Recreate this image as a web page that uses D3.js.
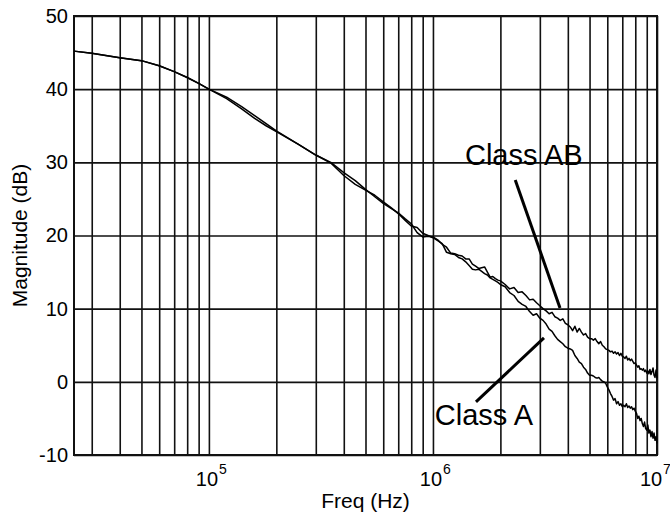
<!DOCTYPE html>
<html>
<head>
<meta charset="utf-8">
<script src="https://cdn.jsdelivr.net/npm/d3@7"></script>
<style>
  body { margin: 0; background: #fff; }
  svg { display: block; font-family: "Liberation Sans", Arial, sans-serif; }
  .grid line { stroke: #111; stroke-width: 1.6; }
  .grid .domain { display: none; }
  .tick-label { font-size: 20px; fill: #000; }
</style>
</head>
<body>
<svg id="chart" width="670" height="514"></svg>
<script>
// Frequency points (Hz), shared by both traces
const freqHz = [
  25000, 30000, 40000, 50000, 60000, 70000, 80000, 90000, 100000, 120000,
  140000, 160000, 180000, 200000, 250000, 300000, 350000, 400000, 450000, 500000,
  550000, 600000, 650000, 700000, 750000, 800000, 850000, 900000, 950000, 1000000,
  1.05e6, 1.1e6, 1.15e6, 1.2e6, 1.25e6, 1.3e6, 1.35e6, 1.4e6, 1.45e6, 1.5e6,
  1.55e6, 1.6e6, 1.65e6, 1.7e6, 1.75e6, 1.8e6, 1.85e6, 1.9e6, 1.95e6, 2.0e6,
  2.1e6, 2.2e6, 2.3e6, 2.4e6, 2.5e6, 2.6e6, 2.7e6, 2.8e6, 2.9e6, 3.0e6,
  3.1e6, 3.2e6, 3.3e6, 3.4e6, 3.5e6, 3.6e6, 3.7e6, 3.8e6, 3.9e6, 4.0e6,
  4.1e6, 4.2e6, 4.3e6, 4.4e6, 4.5e6, 4.6e6, 4.7e6, 4.8e6, 4.9e6, 5.0e6,
  5.1e6, 5.2e6, 5.3e6, 5.4e6, 5.5e6, 5.6e6, 5.7e6, 5.8e6, 5.9e6, 6.0e6,
  6.1e6, 6.2e6, 6.3e6, 6.4e6, 6.5e6, 6.6e6, 6.7e6, 6.8e6, 6.9e6, 7.0e6,
  7.1e6, 7.2e6, 7.3e6, 7.4e6, 7.5e6, 7.6e6, 7.7e6, 7.8e6, 7.9e6, 8.0e6,
  8.1e6, 8.2e6, 8.3e6, 8.4e6, 8.5e6, 8.6e6, 8.7e6, 8.8e6, 8.9e6, 9.0e6,
  9.1e6, 9.2e6, 9.3e6, 9.4e6, 9.5e6, 9.6e6, 9.7e6, 9.8e6, 9.9e6, 1.0e7
];

// Magnitude (dB), Class A
const classA = [
  45.2, 44.9, 44.3, 43.9, 43.2, 42.4, 41.6, 40.8, 40.0, 38.7,
  37.3, 36.0, 35.0, 34.2, 32.5, 31.0, 29.9, 28.2, 27.0, 26.2,
  25.5, 24.6, 23.8, 23.0, 22.1, 21.3, 21.1, 20.3, 20.0, 19.7,
  19.3, 18.9, 17.7, 17.5, 17.4, 17.0, 16.8, 16.4, 15.9, 15.4,
  15.3, 15.4, 15.1, 14.8, 14.6, 14.2, 14.0, 13.8, 13.6, 13.3,
  13.0, 12.2, 11.8, 11.0, 10.6, 10.3, 9.6, 9.1, 9.3, 8.7,
  8.4, 7.9, 7.2, 6.9, 6.3, 5.8, 5.5, 5.2, 4.8, 4.6,
  4.5, 4.3, 3.6, 3.2, 2.7, 2.5, 2.0, 1.7, 1.2, 0.9,
  0.9, 0.8, 0.6, 0.5, 0.6, 0.3, 0.1, 0.0, -0.2, -0.7,
  -1.1, -1.6, -2.0, -2.5, -2.3, -3.0, -2.7, -3.2, -3.0, -3.4,
  -3.2, -3.4, -3.0, -3.5, -3.3, -3.6, -3.4, -3.8, -3.6, -4.0,
  -4.3, -5.0, -4.7, -5.3, -5.0, -5.7, -6.1, -5.5, -6.4, -6.6,
  -5.9, -7.0, -6.6, -7.5, -6.8, -7.7, -7.0, -8.0, -7.5, -8.4
];

// Magnitude (dB), Class AB
const classAB = [
  45.2, 44.9, 44.3, 43.9, 43.2, 42.4, 41.6, 40.8, 40.0, 38.9,
  37.6, 36.4, 35.3, 34.3, 32.5, 31.0, 30.0, 28.6, 27.5, 26.3,
  25.3, 24.4, 23.7, 23.1, 22.3, 21.6, 20.4, 19.8, 19.9, 19.8,
  19.4, 18.8, 18.4, 17.6, 17.5, 17.3, 17.2, 16.8, 16.8, 16.1,
  15.8, 15.5, 15.6, 15.7, 15.0, 14.3, 14.4, 14.1, 13.9, 13.8,
  13.3, 12.7, 12.9, 12.2, 12.3, 11.8, 11.2, 11.3, 10.8, 10.4,
  10.0, 9.7, 9.3, 9.5, 8.9, 8.7, 8.4, 8.6, 8.0, 7.8,
  7.5, 7.0, 7.6, 6.8, 7.3, 6.8, 6.4, 6.6, 6.1, 5.9,
  5.9, 5.7, 5.9, 5.5, 5.2, 5.5, 5.0, 4.8, 4.5, 4.4,
  4.3, 4.1, 4.2, 3.9, 4.1, 3.8, 4.0, 3.6, 3.9, 3.5,
  3.4, 3.2, 3.5, 3.0, 3.2, 2.9, 3.1, 2.8, 2.5, 2.6,
  2.3, 2.0, 2.2, 1.7, 1.8, 1.6, 1.8, 1.4, 1.6, 1.2,
  1.5, 1.1, 1.7, 1.0, 1.4, 1.9, 0.9, 0.6, 1.6, 0.5
];

const xDomain = [25000, 1e7];
const yTicks = [-10, 0, 10, 20, 30, 40, 50];
const xLabelTicks = [1e5, 1e6, 1e7];

// Annotations: label text, label anchor, leader line [from, to] in data units
const labelNames = ['Class AB', 'Class A'];
const labelAt = [[1.39e6, 29.6], [1.02e6, -5.9]];
const leaderFrom = [[2.33e6, 27.6], [1.556e6, -2.75]];
const leaderTo = [[3.69e6, 10.1], [3.13e6, 6.0]];

const svg = d3.select('#chart');
const margin = { top: 16, right: 13, bottom: 59, left: 74 };
const width = +svg.attr('width') - margin.left - margin.right;
const height = +svg.attr('height') - margin.top - margin.bottom;

const g = svg.append('g')
  .attr('transform', `translate(${margin.left},${margin.top})`);

const x = d3.scaleLog().domain(xDomain).range([0, width]);
const y = d3.scaleLinear().domain([-10, 50]).range([height, 0]);

// Vertical grid at every 1..9 x 10^n
g.append('g')
    .attr('class', 'grid')
    .attr('transform', `translate(0,${height})`)
  .call(d3.axisBottom(x).tickValues(x.ticks()).tickSize(-height).tickFormat(''));

// Horizontal grid + y labels (plain hyphen for negatives)
const yAxisG = g.append('g')
    .attr('class', 'grid')
  .call(d3.axisLeft(y).tickValues(yTicks).tickSize(-width).tickPadding(6)
    .tickFormat(d => String(d)));
yAxisG.selectAll('text')
    .attr('class', 'tick-label');

// Decade labels: 10 with superscript exponent
const decade = g.append('g').attr('transform', `translate(0,${height})`);
xLabelTicks.forEach(v => {
  const exp = Math.round(Math.log10(v));
  let px = x(v) - 2;
  if (exp === 7) px = x(v) - 6;
  decade.append('text')
      .attr('class', 'tick-label')
      .attr('x', px)
      .attr('y', 31)
      .attr('text-anchor', 'middle')
      .text('10');
  decade.append('text')
      .attr('x', px + 12)
      .attr('y', 19)
      .attr('font-size', '14px')
      .text(exp);
});

// Frame
g.append('rect')
    .attr('width', width)
    .attr('height', height)
    .attr('fill', 'none')
    .attr('stroke', '#111')
    .attr('stroke-width', 2);

// Traces
const line = d3.line()
  .x(d => x(d[0]))
  .y(d => y(d[1]));

[classA, classAB].forEach(vals => {
  g.append('path')
      .datum(d3.zip(freqHz, vals))
      .attr('fill', 'none')
      .attr('stroke', '#000')
      .attr('stroke-width', 1.5)
      .attr('stroke-linejoin', 'round')
      .attr('d', line);
});

// Annotations
labelNames.forEach((name, i) => {
  g.append('line')
      .attr('x1', x(leaderFrom[i][0]))
      .attr('y1', y(leaderFrom[i][1]))
      .attr('x2', x(leaderTo[i][0]))
      .attr('y2', y(leaderTo[i][1]))
      .attr('stroke', '#000')
      .attr('stroke-width', 3);
  g.append('text')
      .attr('x', x(labelAt[i][0]))
      .attr('y', y(labelAt[i][1]))
      .attr('font-size', '29px')
      .text(name);
});

// Axis titles
g.append('text')
    .attr('x', width / 2)
    .attr('y', height + 53)
    .attr('text-anchor', 'middle')
    .attr('font-size', '21px')
    .text('Freq (Hz)');

g.append('text')
    .attr('transform', `translate(${27 - margin.left},${height / 2}) rotate(-90)`)
    .attr('text-anchor', 'middle')
    .attr('font-size', '21px')
    .text('Magnitude (dB)');
</script>
</body>
</html>
